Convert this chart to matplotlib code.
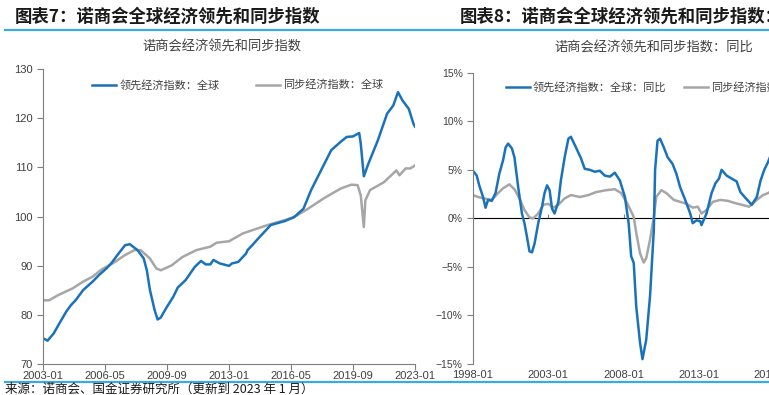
import matplotlib
matplotlib.use('Agg')
import matplotlib.pyplot as plt
import matplotlib.dates as mdates
from matplotlib.ticker import FuncFormatter, NullFormatter
import pandas as pd

plt.rcParams['font.family'] = ['Noto Sans CJK SC', 'DejaVu Sans']

# 图表7 数据: 诺商会全球经济指数
lead_dates = ['2003-01', '2003-04', '2003-08', '2003-11', '2004-04', '2004-07', '2004-10',
              '2005-03', '2005-09', '2006-01', '2006-06', '2006-09', '2007-01', '2007-06',
              '2007-09', '2008-02', '2008-06', '2008-08', '2008-10', '2009-01', '2009-03',
              '2009-05', '2009-09', '2010-01', '2010-04', '2010-09', '2011-03', '2011-07',
              '2011-10', '2012-01', '2012-03', '2012-07', '2013-01', '2013-03', '2013-07',
              '2013-12', '2014-01', '2014-04', '2014-08', '2015-04', '2016-01', '2016-07',
              '2017-01', '2017-06', '2018-01', '2018-07', '2019-01', '2019-05', '2019-09',
              '2020-01', '2020-02', '2020-04', '2020-07', '2021-01', '2021-07', '2021-11',
              '2022-02', '2022-05', '2022-09', '2022-12', '2023-01']
lead_vals = [75.3, 74.8, 76.3, 78.0, 80.7, 82.0, 83.0,
             85.1, 86.8, 88.1, 89.5, 90.5, 92.2, 94.2,
             94.4, 93.2, 91.5, 89.1, 85.1, 81.0, 79.1,
             79.5, 81.7, 83.7, 85.6, 87.1, 89.8, 91.0,
             90.3, 90.3, 91.2, 90.5, 90.0, 90.5, 90.8,
             92.5, 93.2, 94.2, 95.6, 98.3, 99.1, 99.9,
             101.6, 105.4, 109.8, 113.5, 115.2, 116.2, 116.3,
             117.0, 114.8, 108.2, 110.8, 115.5, 120.9, 122.6,
             125.3, 123.6, 121.9, 118.9, 118.3]

coin_dates = ['2003-01', '2003-05', '2003-11', '2004-08', '2005-03', '2005-09', '2006-03',
              '2006-10', '2007-06', '2007-12', '2008-04', '2008-10', '2009-02', '2009-05',
              '2009-12', '2010-07', '2011-04', '2012-01', '2012-05', '2013-01', '2013-10',
              '2015-02', '2016-01', '2016-07', '2017-04', '2018-02', '2019-01', '2019-08',
              '2019-12', '2020-02', '2020-04', '2020-05', '2020-08', '2021-05', '2022-01',
              '2022-03', '2022-07', '2022-10', '2023-01']
coin_vals = [83.0, 83.0, 84.1, 85.4, 86.8, 87.8, 89.3,
             90.5, 92.2, 93.2, 93.2, 91.5, 89.5, 89.1,
             90.1, 91.8, 93.2, 93.9, 94.7, 95.0, 96.6,
             98.3, 99.3, 99.9, 101.6, 103.7, 105.7, 106.5,
             106.4, 104.3, 97.9, 103.3, 105.4, 107.0, 109.4,
             108.4, 109.8, 109.8, 110.4]

# 图表8 数据: 同比 (%)
lead_yoy_dates = ['1998-01', '1998-04', '1998-06', '1998-09', '1998-11', '1999-01', '1999-04',
                  '1999-07', '1999-10', '2000-01', '2000-03', '2000-05', '2000-08', '2000-10',
                  '2001-01', '2001-04', '2001-06', '2001-08', '2001-10', '2001-12', '2002-02',
                  '2002-05', '2002-08', '2002-10', '2002-12', '2003-02', '2003-04', '2003-06',
                  '2003-09', '2003-11', '2004-02', '2004-05', '2004-07', '2004-11', '2005-03',
                  '2005-06', '2005-10', '2006-02', '2006-06', '2006-10', '2007-02', '2007-06',
                  '2007-10', '2008-02', '2008-05', '2008-07', '2008-09', '2008-11', '2009-02',
                  '2009-04', '2009-07', '2009-10', '2010-01', '2010-02', '2010-04', '2010-06',
                  '2010-09', '2010-12', '2011-04', '2011-07', '2011-10', '2012-02', '2012-06',
                  '2012-08', '2012-11', '2013-02', '2013-03', '2013-07', '2013-11', '2014-02',
                  '2014-05', '2014-07', '2014-11', '2015-03', '2015-07', '2015-10', '2016-02',
                  '2016-07', '2016-11', '2017-02', '2017-05', '2017-08', '2017-11', '2018-01']
lead_yoy_vals = [4.9, 4.4, 3.4, 2.2, 1.1, 1.9, 1.8,
                 2.6, 4.6, 6.0, 7.3, 7.7, 7.2, 6.3,
                 3.2, 0.5, -0.5, -1.9, -3.4, -3.5, -2.6,
                 -0.5, 1.2, 2.6, 3.4, 2.9, 1.0, 0.5,
                 1.7, 3.9, 6.3, 8.2, 8.4, 7.3, 6.2,
                 5.1, 5.0, 4.8, 4.9, 4.4, 4.3, 4.7,
                 3.9, 2.2, -0.5, -3.9, -4.6, -9.1, -12.8,
                 -14.5, -12.5, -8.0, -1.2, 5.0, 8.0, 8.2,
                 7.3, 6.3, 5.6, 4.6, 3.2, 1.9, 0.5,
                 -0.5, -0.2, -0.3, -0.7, 0.5, 2.6, 3.6,
                 4.1, 5.0, 4.4, 4.1, 3.8, 2.7, 2.1,
                 1.4, 2.2, 3.9, 5.0, 5.8, 6.8, 8.0]

coin_yoy_dates = ['1998-01', '1998-05', '1998-10', '1999-04', '1999-09', '2000-01', '2000-06',
                  '2000-10', '2001-02', '2001-06', '2001-10', '2002-01', '2002-05', '2002-09',
                  '2003-01', '2003-05', '2003-09', '2004-02', '2004-07', '2005-02', '2005-09',
                  '2006-03', '2006-11', '2007-06', '2007-11', '2008-04', '2008-09', '2008-11',
                  '2009-02', '2009-05', '2009-07', '2009-10', '2010-01', '2010-03', '2010-07',
                  '2010-11', '2011-05', '2011-10', '2012-03', '2012-08', '2012-12', '2013-03',
                  '2013-07', '2013-12', '2014-06', '2014-12', '2015-05', '2015-11', '2016-05',
                  '2016-11', '2017-04', '2017-08', '2018-01']
coin_yoy_vals = [2.4, 2.2, 2.05, 1.9, 2.6, 3.1, 3.5,
                 3.0, 2.05, 0.85, 0.1, 0.0, 0.5, 1.4,
                 1.5, 1.1, 1.4, 2.05, 2.4, 2.2, 2.4,
                 2.7, 2.9, 3.0, 2.6, 1.5, 0.15, -1.5,
                 -3.6, -4.55, -4.1, -2.2, 0.15, 2.2, 2.9,
                 2.6, 1.9, 1.7, 1.5, 1.1, 1.2, 0.5,
                 0.85, 1.7, 1.9, 1.8, 1.6, 1.4, 1.2,
                 1.9, 2.4, 2.6, 3.0]

left_ticks = ['2003-01', '2006-05', '2009-09', '2013-01', '2016-05', '2019-09', '2023-01']
right_ticks = ['1998-01', '2003-01', '2008-01', '2013-01', '2018-01', '2023-01']

BLUE = '#1a72bb'
GRAY = '#a6a6a6'
AXC = '#7f7f7f'
TXT = '#404040'
SEP = '#3aaae0'

W, H = 769, 395
fig = plt.figure(figsize=(W / 100, H / 100), dpi=100)


def d(s):
    return pd.to_datetime(s, format='%Y-%m')


def fx(px):
    return px / W


def fy(py):
    return 1 - py / H


# 分隔线和标题
fig.add_artist(plt.Line2D([fx(5), 1], [fy(30), fy(30)], color=SEP, lw=1.6))
fig.add_artist(plt.Line2D([fx(5), 1], [fy(382), fy(382)], color=SEP, lw=1.6))
fig.text(fx(15), fy(17), '图表7：诺商会全球经济领先和同步指数', fontsize=12.5,
         fontweight='bold', color='#1a1a1a', va='center', ha='left')
fig.text(fx(460), fy(17), '图表8：诺商会全球经济领先和同步指数：', fontsize=12.5,
         fontweight='bold', color='#1a1a1a', va='center', ha='left')
fig.text(fx(5), fy(389), '来源：诺商会、国金证券研究所（更新到 2023 年 1 月）', fontsize=9,
         color='#1a1a1a', va='center', ha='left')
fig.text(fx(222), fy(47), '诺商会经济领先和同步指数', fontsize=9.5, color=TXT,
         va='center', ha='center')
fig.text(fx(654), fy(48), '诺商会经济领先和同步指数：同比', fontsize=9.5, color=TXT,
         va='center', ha='center')

# 图表7
ax1 = fig.add_axes([fx(43), fy(364.3), fx(415 - 43), (364.3 - 69) / H])
ax1.plot(d(coin_dates), coin_vals, color=GRAY, lw=1.8, label='同步经济指数：全球')
ax1.plot(d(lead_dates), lead_vals, color=BLUE, lw=1.8, label='领先经济指数：全球')
ax1.set_xlim(d('2003-01'), d('2023-01'))
ax1.set_ylim(70, 130)
ax1.set_yticks([70, 80, 90, 100, 110, 120, 130])
ax1.set_xticks(d(left_ticks))
ax1.xaxis.set_major_formatter(mdates.DateFormatter('%Y-%m'))
for s in ['top', 'right']:
    ax1.spines[s].set_visible(False)
for s in ['left', 'bottom']:
    ax1.spines[s].set_color(AXC)
ax1.tick_params(colors=AXC, labelcolor=TXT, labelsize=8, length=4, width=0.8,
                labelfontfamily='Liberation Sans')
ax1.tick_params(axis='x', pad=1)
h, l = ax1.get_legend_handles_labels()
fig.legend([h[1], h[0]], [l[1], l[0]], loc='center left',
           bbox_to_anchor=(fx(92), fy(85)), ncol=2, frameon=False, fontsize=8,
           handlelength=2.15, handletextpad=0.3, columnspacing=3.3,
           borderpad=0, borderaxespad=0, labelcolor=TXT)

# 图表8 (右侧被截断)
ax2 = fig.add_axes([fx(473), fy(364), fx(849.7 - 473), (364 - 72.7) / H])
ax2.plot(d(coin_yoy_dates), coin_yoy_vals, color=GRAY, lw=1.8, label='同步经济指数：全球：同比')
ax2.plot(d(lead_yoy_dates), lead_yoy_vals, color=BLUE, lw=1.8, label='领先经济指数：全球：同比')
ax2.set_xlim(d('1998-01'), d('2023-01'))
ax2.set_ylim(-15, 15)
ax2.set_yticks([-15, -10, -5, 0, 5, 10, 15])
ax2.yaxis.set_major_formatter(FuncFormatter(lambda v, p: f'{int(v)}%'.replace('-', '\u2212')))
ax2.set_xticks(d(right_ticks))
ax2.xaxis.set_major_formatter(mdates.DateFormatter('%Y-%m'))
for s in ['top', 'right', 'bottom']:
    ax2.spines[s].set_visible(False)
ax2.spines['left'].set_color(AXC)
ax2.tick_params(colors=AXC, labelcolor=TXT, labelsize=7.5, length=4, width=0.8,
                labelfontfamily='Liberation Sans')
ax2.tick_params(axis='x', length=0, pad=4, labelsize=8)
zero = ax2.secondary_xaxis(0.5)
zero.set_xticks(d(right_ticks))
zero.xaxis.set_major_formatter(NullFormatter())
zero.spines['bottom'].set_color(AXC)
zero.tick_params(axis='x', colors=AXC, length=3, width=0.8)
h, l = ax2.get_legend_handles_labels()
fig.legend([h[1], h[0]], [l[1], l[0]], loc='center left',
           bbox_to_anchor=(fx(506), fy(87)), ncol=2, frameon=False, fontsize=8,
           handlelength=2.15, handletextpad=0.25, columnspacing=1.6,
           borderpad=0, borderaxespad=0, labelcolor=TXT)

fig.savefig('out.png', dpi=100)
